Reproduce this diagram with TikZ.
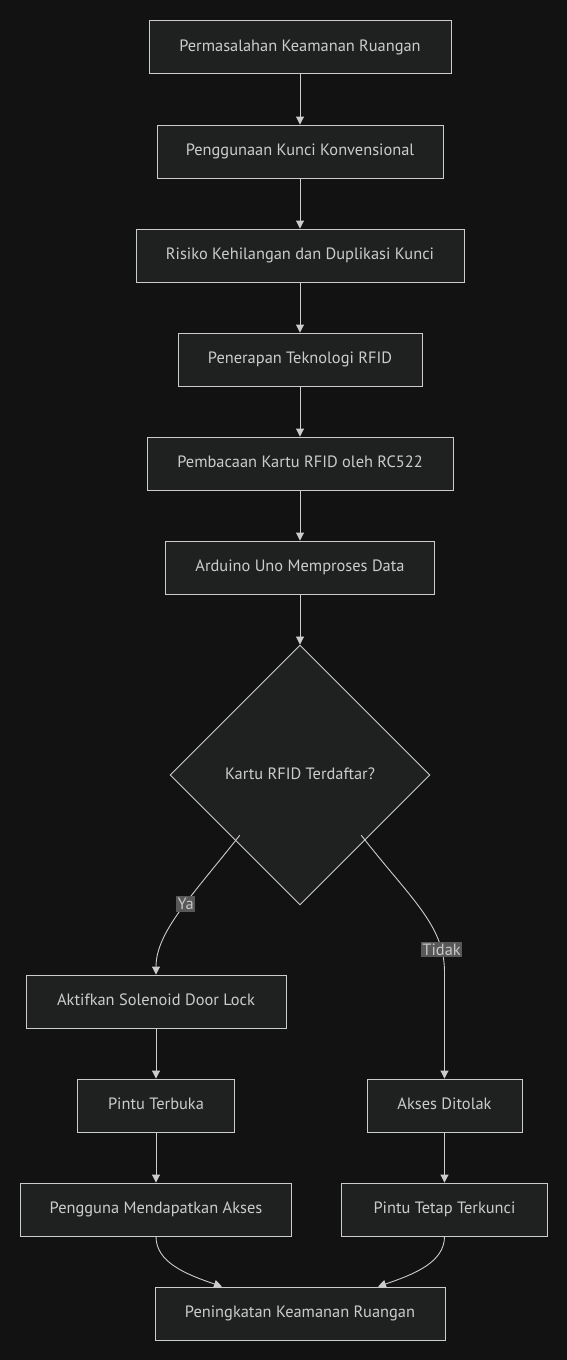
\documentclass[tikz,border=0pt]{standalone}
\usepackage{fontspec}
\setmainfont{PT Sans}
\usetikzlibrary{shapes.geometric}
\usetikzlibrary{arrows.meta}
\definecolor{bgDark}{HTML}{121212}
\definecolor{boxFill}{HTML}{1F2020}
\definecolor{lineGrey}{HTML}{CCCCCC}
\definecolor{labelFill}{HTML}{585858}

\begin{document}
\begin{tikzpicture}[%%
  x=1pt,y=-1pt,%%
  boxDecorate/.style={%%
    draw=lineGrey,fill=boxFill,text=lineGrey,line width=0.9pt,%%
    minimum height=53pt,inner sep=0pt,text height=1em,text depth=0.12em,%%
    font=\fontsize{16.4}{19}\selectfont%%
  },%%
  decisionDecorate/.style={%%
    boxDecorate,diamond,aspect=1,minimum width=260pt,minimum height=260pt%%
  },%%
  arrowDecorate/.style={%%
    draw=lineGrey,line width=0.9pt,-{Triangle[width=8pt,length=8pt]}%%
  },%%
  labelDecorate/.style={%%
    fill=labelFill,text=lineGrey!110,inner xsep=1.5pt,inner ysep=2pt,%%
    font=\fontsize{16.4}{19}\selectfont%%
  }%%
]
%%
%% Page and background.
\fill[bgDark] (0,0) rectangle (567,1360);
\useasboundingbox (0,0) rectangle (567,1360);
%%
%% Global variables.
\pgfmathsetmacro{\Xm}{300}
\pgfmathsetmacro{\Xl}{156}
\pgfmathsetmacro{\Xr}{444.5}
%%
%% Main column.
\node[boxDecorate,minimum width=302pt] (masalah) at (\Xm,47) {Permasalahan Keamanan Ruangan};
\node[boxDecorate,minimum width=286pt] (kunci) at (\Xm,151.5) {Penggunaan Kunci Konvensional};
\node[boxDecorate,minimum width=328pt] (risiko) at (\Xm,255.5) {Risiko Kehilangan dan Duplikasi Kunci};
\node[boxDecorate,minimum width=244pt] (rfid) at (\Xm,359.5) {Penerapan Teknologi RFID};
\node[boxDecorate,minimum width=306pt] (baca) at (\Xm,463.5) {Pembacaan Kartu RFID oleh RC522};
\node[boxDecorate,minimum width=269pt] (arduino) at (\Xm,567.5) {Arduino Uno Memproses Data};
\node[decisionDecorate] (cek) at (\Xm,775) {Kartu RFID Terdaftar?};
%%
%% Left branch.
\node[boxDecorate,minimum width=260pt] (solenoid) at (\Xl,1001.5) {Aktifkan Solenoid Door Lock};
\node[boxDecorate,minimum width=157pt] (buka) at (\Xl,1105.5) {Pintu Terbuka};
\node[boxDecorate,minimum width=271pt] (akses) at (\Xl,1209.5) {Pengguna Mendapatkan Akses};
%%
%% Right branch.
\node[boxDecorate,minimum width=155pt] (tolak) at (\Xr,1105.5) {Akses Ditolak};
\node[boxDecorate,minimum width=206pt] (kunciTetap) at (\Xr,1209.5) {Pintu Tetap Terkunci};
%%
%% Result.
\node[boxDecorate,minimum width=290pt] (hasil) at (\Xm,1313.5) {Peningkatan Keamanan Ruangan};
%%
%% Straight connectors down the main column.
\foreach \a/\b in {masalah/kunci,kunci/risiko,risiko/rfid,rfid/baca,baca/arduino,arduino/cek} {
  \draw[arrowDecorate] (\a) -- (\b);
}
\foreach \a/\b in {solenoid/buka,buka/akses,tolak/kunciTetap} {
  \draw[arrowDecorate] (\a) -- (\b);
}
%%
%% Decision branches.
\coordinate (yaStart) at ([shift={(5pt,5pt)}]cek.south west);
\coordinate (tidakStart) at ([shift={(-4pt,5pt)}]cek.south east);
\coordinate (tidakBend) at (\Xr,972);
\draw[arrowDecorate] (yaStart)
  .. controls (192,896) and (\Xl,932) .. (solenoid.north)
  node[labelDecorate,pos=0.44] (ya) {Ya};
\draw[arrowDecorate] (tidakStart)
  .. controls (410,898) and (\Xr,925) .. (tidakBend)
  node[labelDecorate,pos=0.83] (tidak) {Tidak}
  -- (tolak.north);
%%
%% Joining at the result.
\draw[arrowDecorate] (akses.south)
  .. controls (\Xl,1262) and (185,1274) .. ([xshift=-78pt]hasil.north);
\draw[arrowDecorate] (kunciTetap.south)
  .. controls (\Xr,1262) and (415,1274) .. ([xshift=78pt]hasil.north);
\end{tikzpicture}
\end{document}
